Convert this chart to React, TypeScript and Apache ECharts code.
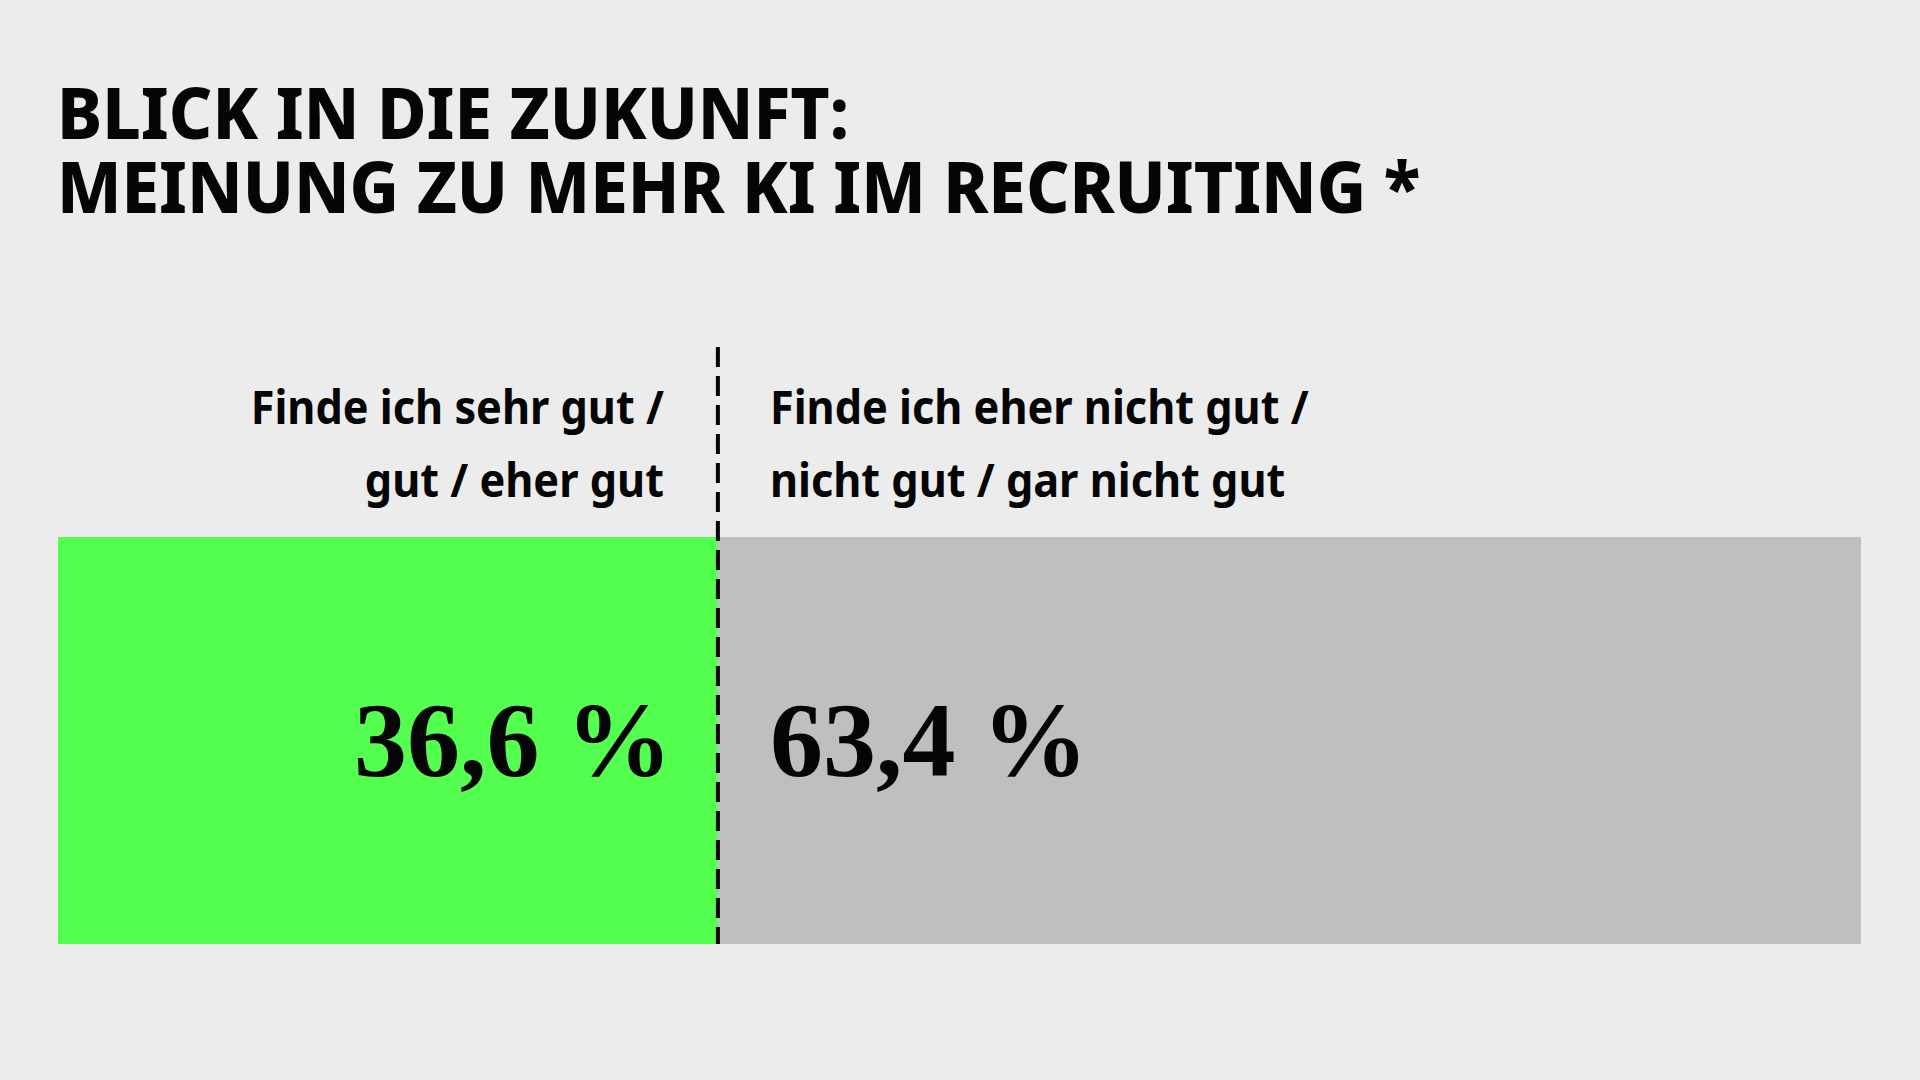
import React, { useEffect, useRef } from "react";
import * as echarts from "echarts";

const titleLines = ["BLICK IN DIE ZUKUNFT:", "MEINUNG ZU MEHR KI IM RECRUITING *"];
const categories = ["Meinung zu mehr KI im Recruiting"];
const seriesNames = [
  "Finde ich sehr gut / gut / eher gut",
  "Finde ich eher nicht gut / nicht gut / gar nicht gut",
];
const positiveValues = [36.6];
const negativeValues = [63.4];
const positiveLabelLines = ["Finde ich sehr gut /", "gut / eher gut"];
const negativeLabelLines = ["Finde ich eher nicht gut /", "nicht gut / gar nicht gut"];

const BG = "#ececec";
const GREEN = "#55ff4f";
const GRAY = "#bfbfbf";
const INK = "#050505";
const SANS = '"Noto Sans", "Open Sans", sans-serif';
const SERIF = '"Liberation Serif", "DejaVu Serif", serif';
const TITLE_SCALE_X = 0.94;
const LABEL_SCALE_X = 0.94;

const fmt = (v: number) => v.toFixed(1).replace(".", ",") + " %";

export default function App() {
  const ref = useRef<HTMLDivElement>(null);

  useEffect(() => {
    document.body.style.margin = "0";
    const chart = echarts.init(ref.current!, null, { renderer: "svg" });
    const valueLabel = {
      show: true,
      formatter: (p: any) => fmt(p.value),
      fontFamily: SERIF,
      fontWeight: "bold",
      fontSize: 106,
      color: INK,
    };
    chart.setOption({
      animation: false,
      backgroundColor: BG,
      grid: { left: 58, right: 59, top: 537, bottom: 136 },
      xAxis: { type: "value", min: 0, max: 100, show: false },
      yAxis: { type: "category", data: categories, show: false },
      series: [
        {
          name: seriesNames[0],
          type: "bar",
          stack: "total",
          barWidth: "100%",
          data: positiveValues,
          itemStyle: { color: GREEN },
          label: { ...valueLabel, position: "insideRight", distance: 46 },
        },
        {
          name: seriesNames[1],
          type: "bar",
          stack: "total",
          barWidth: "100%",
          data: negativeValues,
          itemStyle: { color: GRAY },
          label: { ...valueLabel, position: "insideLeft", distance: 52 },
        },
      ],
    });

    const xDiv = chart.convertToPixel({ xAxisIndex: 0 }, positiveValues[0]) as number;
    const barBottom = 1080 - 136;

    const txt = (
      text: string,
      x: number,
      y: number,
      size: number,
      align: string,
      sx: number,
      weight: number
    ) => ({
      type: "text",
      x,
      y,
      scaleX: sx,
      style: {
        text,
        x: 0,
        y: 0,
        align,
        verticalAlign: "middle",
        fontFamily: SANS,
        fontWeight: weight,
        fontSize: size,
        fill: INK,
      },
      z: 10,
    });

    chart.setOption({
      graphic: [
        txt(titleLines[0], 57, 111, 72, "left", TITLE_SCALE_X, 800),
        txt(titleLines[1], 57, 185, 72, "left", TITLE_SCALE_X, 800),
        txt(positiveLabelLines[0], xDiv - 54, 406, 46, "right", LABEL_SCALE_X, 700),
        txt(positiveLabelLines[1], xDiv - 54, 479, 46, "right", LABEL_SCALE_X, 700),
        txt(negativeLabelLines[0], xDiv + 52, 406, 46, "left", LABEL_SCALE_X, 700),
        txt(negativeLabelLines[1], xDiv + 52, 479, 46, "left", LABEL_SCALE_X, 700),
        {
          type: "line",
          shape: { x1: xDiv, y1: 347, x2: xDiv, y2: barBottom },
          style: { stroke: INK, lineWidth: 4, lineDash: [20, 9] },
          z: 20,
        },
      ],
    });

    return () => chart.dispose();
  }, []);

  return (
    <div
      ref={ref}
      style={{ position: "fixed", left: 0, top: 0, width: 1920, height: 1080 }}
    />
  );
}
